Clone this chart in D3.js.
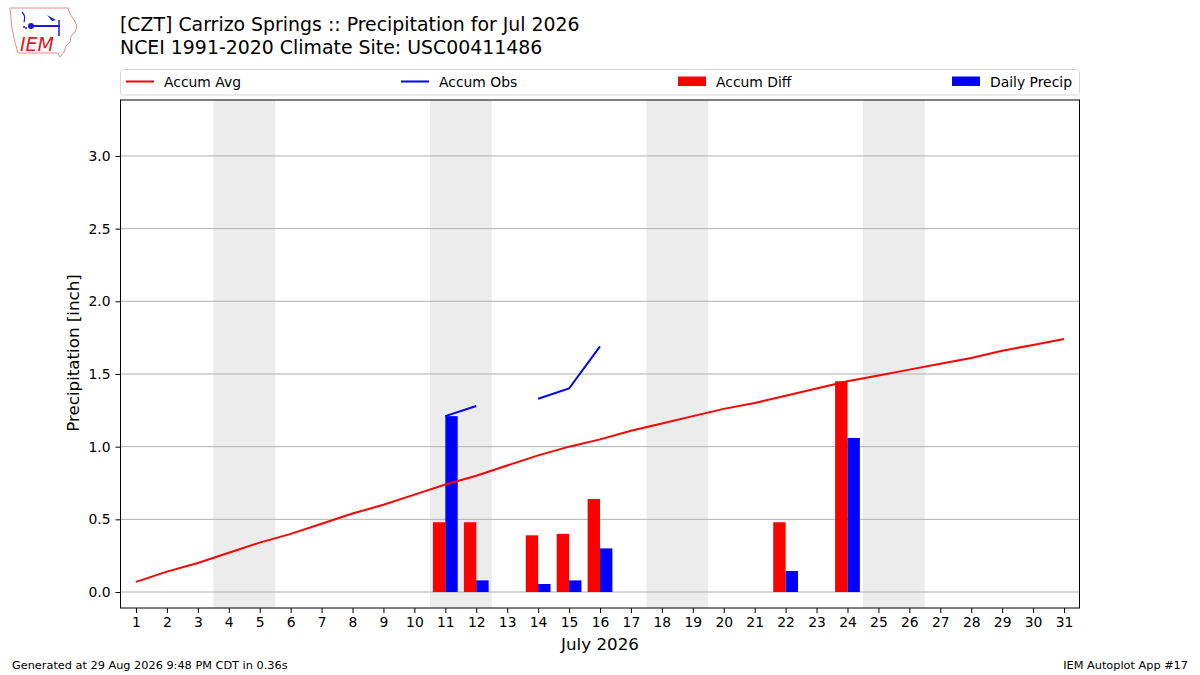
<!DOCTYPE html>
<html><head><meta charset="utf-8">
<script src="https://cdn.jsdelivr.net/npm/d3@7"></script>
<style>
body{margin:0;background:#fff;}
svg text{font-family:"DejaVu Sans",sans-serif;}
</style></head><body>
<svg id="c" width="1200" height="675"></svg>
<script>
const days = d3.range(1, 32);
const accumAvg = [0.07,0.14,0.20,0.27,0.34,0.40,0.47,0.54,0.60,0.67,0.74,0.80,0.87,0.94,1.00,1.05,1.11,1.16,1.21,1.26,1.30,1.35,1.40,1.45,1.49,1.53,1.57,1.61,1.66,1.70,1.74];
const accumObs = [null,null,null,null,null,null,null,null,null,null,1.21,1.28,null,1.33,1.40,1.69,null,null,null,null,null,null,null,null,null,null,null,null,null,null,null];
const diffDays = [11,12,14,15,16,22,24];
const accumDiff = [0.48,0.48,0.39,0.40,0.64,0.48,1.45];
const dailyPrecip = [1.21,0.08,0.055,0.08,0.30,0.145,1.06];
const weekendStarts = [4,11,18,25];
const yTicks = [0,0.5,1.0,1.5,2.0,2.5,3.0];

const svg = d3.select("#c");
const L=120.5, R=1079.5, T=100, B=608;
const x = d3.scaleLinear().domain([0.5,31.5]).range([L,R]);
const y = d3.scaleLinear().domain([-0.11,3.385]).range([B,T]);

svg.append("rect").attr("x",L).attr("y",T).attr("width",R-L).attr("height",B-T).attr("fill","#fff");
svg.append("g").selectAll("rect").data(weekendStarts).join("rect")
  .attr("x",d=>x(d-0.5)).attr("width",d=>x(d+1.5)-x(d-0.5))
  .attr("y",T).attr("height",B-T).attr("fill","#ececec");
svg.append("g").selectAll("line").data(yTicks).join("line")
  .attr("x1",L).attr("x2",R).attr("y1",d=>y(d)).attr("y2",d=>y(d))
  .attr("stroke","#b0b0b0").attr("stroke-width",1);

const bw = 0.4;
svg.append("g").selectAll("rect").data(diffDays).join("rect")
  .attr("x",d=>x(d-bw)).attr("width",x(bw)-x(0))
  .attr("y",(d,i)=>y(accumDiff[i])).attr("height",(d,i)=>y(0)-y(accumDiff[i]))
  .attr("fill","#ff0000");
svg.append("g").selectAll("rect").data(diffDays).join("rect")
  .attr("x",d=>x(d)).attr("width",x(bw)-x(0))
  .attr("y",(d,i)=>y(dailyPrecip[i])).attr("height",(d,i)=>y(0)-y(dailyPrecip[i]))
  .attr("fill","#0000ff");

const line = d3.line().defined(d=>d[1]!=null).x(d=>x(d[0])).y(d=>y(d[1]));
svg.append("path").attr("d",line(days.map((d,i)=>[d,accumAvg[i]])))
  .attr("fill","none").attr("stroke","#ff0000").attr("stroke-width",2);
svg.append("path").attr("d",line(days.map((d,i)=>[d,accumObs[i]])))
  .attr("fill","none").attr("stroke","#0000ff").attr("stroke-width",2);

svg.append("rect").attr("x",L).attr("y",T).attr("width",R-L).attr("height",B-T)
  .attr("fill","none").attr("stroke","#000").attr("stroke-width",1);

const xa = svg.append("g").attr("transform",`translate(0,${B})`)
  .call(d3.axisBottom(x).tickValues(days).tickFormat(d3.format("d")).tickSize(5).tickPadding(4));
const ya = svg.append("g").attr("transform",`translate(${L},0)`)
  .call(d3.axisLeft(y).tickValues(yTicks).tickFormat(d3.format(".1f")).tickSize(5).tickPadding(5));
[xa,ya].forEach(a=>{a.select(".domain").remove();
  a.selectAll("text").attr("font-size",13.9).attr("fill","#000").attr("font-family","DejaVu Sans");
  a.selectAll("line").attr("stroke","#000");});

svg.append("text").attr("x",600).attr("y",650).attr("text-anchor","middle").attr("font-size",16.7).text("July 2026");
svg.append("text").attr("transform","translate(79,353) rotate(-90)").attr("text-anchor","middle").attr("font-size",16.7).text("Precipitation [inch]");

svg.append("text").attr("x",120).attr("y",31).attr("font-size",18.9).text("[CZT] Carrizo Springs :: Precipitation for Jul 2026");
svg.append("text").attr("x",120).attr("y",54).attr("font-size",18.9).text("NCEI 1991-2020 Climate Site: USC00411486");

const lg = svg.append("g");
lg.append("rect").attr("x",120.5).attr("y",69.5).attr("width",959).attr("height",25.5).attr("rx",3)
  .attr("fill","#fff").attr("stroke","#d6d6d6");
const legItems = [
  {name:"Accum Avg", type:"line", color:"#ff0000", x:126},
  {name:"Accum Obs", type:"line", color:"#0000ff", x:401},
  {name:"Accum Diff", type:"rect", color:"#ff0000", x:678},
  {name:"Daily Precip", type:"rect", color:"#0000ff", x:952}
];
legItems.forEach(it=>{
  if(it.type==="line") lg.append("line").attr("x1",it.x).attr("x2",it.x+28).attr("y1",81.5).attr("y2",81.5).attr("stroke",it.color).attr("stroke-width",2);
  else lg.append("rect").attr("x",it.x).attr("y",76.5).attr("width",28).attr("height",9.5).attr("fill",it.color);
  lg.append("text").attr("x",it.x+38).attr("y",86.5).attr("font-size",13.9).text(it.name);
});

svg.append("text").attr("x",12).attr("y",669).attr("font-size",11.3).text("Generated at 29 Aug 2026 9:48 PM CDT in 0.36s");
svg.append("text").attr("x",1188).attr("y",669).attr("text-anchor","end").attr("font-size",11.3).text("IEM Autoplot App #17");

const lo = svg.append("g");
lo.append("path").attr("d","M10,8 L68,8 L70,14 L74,20 L77,26 L75,32 L71,36 L70,42 L66,46 L64,52 L60,57 L58,53 L18,53 L16,46 L14,38 L12,28 L11,18 Z")
  .attr("fill","#fff").attr("stroke","#e88a8a").attr("stroke-width",1);
lo.append("text").attr("x",20).attr("y",51).attr("font-family","Liberation Serif, serif").attr("font-style","italic").attr("font-size",19).attr("fill","#d62020").text("IEM");
lo.append("line").attr("x1",30).attr("x2",60).attr("y1",26).attr("y2",26).attr("stroke","#1a1ac8").attr("stroke-width",2);
lo.append("circle").attr("cx",31).attr("cy",26).attr("r",3).attr("fill","#1a1ac8");
lo.append("path").attr("d","M47,15 L56,20 L52,21 Z").attr("fill","#1a1ac8");
lo.append("line").attr("x1",59).attr("x2",59).attr("y1",20).attr("y2",36).attr("stroke","#1a1ac8").attr("stroke-width",1.5);
lo.append("path").attr("d","M22,12 Q26,16 24,22").attr("fill","none").attr("stroke","#1a1ac8").attr("stroke-width",1.2);
lo.append("circle").attr("cx",24).attr("cy",27).attr("r",1).attr("fill","#1a1ac8");
lo.append("circle").attr("cx",26).attr("cy",28).attr("r",1).attr("fill","#1a1ac8");
</script>
</body></html>
